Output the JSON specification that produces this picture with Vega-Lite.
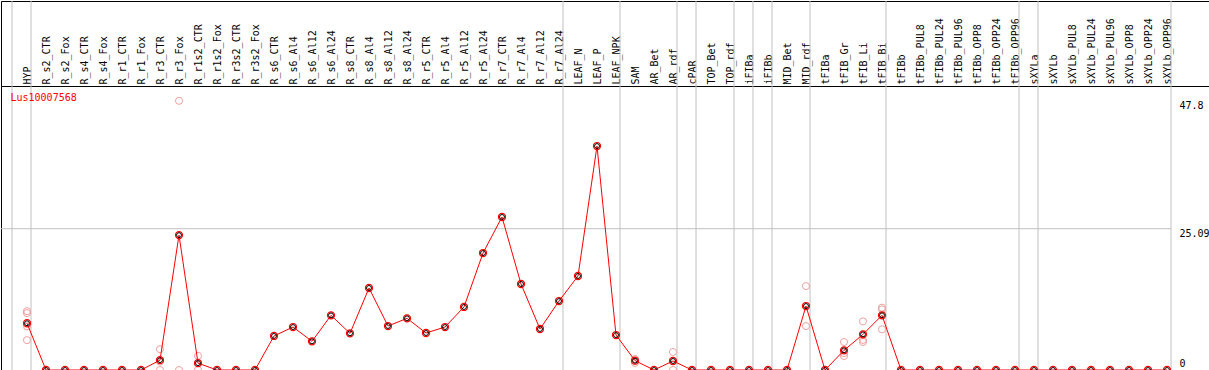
{
  "$schema": "https://vega.github.io/schema/vega-lite/v6.json",
  "autosize": {"type": "pad"},
  "padding": 0,
  "background": "white",
  "spacing": 0,
  "bounds": "flush",
  "config": {
    "view": {"stroke": "black", "strokeWidth": 1},
    "font": "DejaVu Sans Mono"
  },
  "resolve": {"scale": {"x": "independent", "y": "independent"}},
  "datasets": {
    "groups": [
      {"cond": "HYP"}, {"cond": "R_s2_CTR"}, {"cond": "LEAF_N"}, {"cond": "SAM"}, {"cond": "cPAR"},
      {"cond": "TOP_Bet"}, {"cond": "iFIBa"}, {"cond": "iFIBb"}, {"cond": "MID_Bet"}, {"cond": "tFIBa"},
      {"cond": "tFIBb"}, {"cond": "sXYLa"}, {"cond": "sXYLb"}
    ],
    "means": [
      {"cond": "HYP", "value": 8.3},
      {"cond": "R_s2_CTR", "value": 0},
      {"cond": "R_s2_Fox", "value": 0},
      {"cond": "R_s4_CTR", "value": 0},
      {"cond": "R_s4_Fox", "value": 0},
      {"cond": "R_r1_CTR", "value": 0},
      {"cond": "R_r1_Fox", "value": 0},
      {"cond": "R_r3_CTR", "value": 1.75},
      {"cond": "R_r3_Fox", "value": 23.95},
      {"cond": "R_r1s2_CTR", "value": 1.22},
      {"cond": "R_r1s2_Fox", "value": 0},
      {"cond": "R_r3s2_CTR", "value": 0},
      {"cond": "R_r3s2_Fox", "value": 0},
      {"cond": "R_s6_CTR", "value": 6.04},
      {"cond": "R_s6_Al4", "value": 7.63},
      {"cond": "R_s6_Al12", "value": 5.09},
      {"cond": "R_s6_Al24", "value": 9.7},
      {"cond": "R_s8_CTR", "value": 6.51},
      {"cond": "R_s8_Al4", "value": 14.56},
      {"cond": "R_s8_Al12", "value": 7.81},
      {"cond": "R_s8_Al24", "value": 9.17},
      {"cond": "R_r5_CTR", "value": 6.57},
      {"cond": "R_r5_Al4", "value": 7.63},
      {"cond": "R_r5_Al12", "value": 11.19},
      {"cond": "R_r5_Al24", "value": 20.77},
      {"cond": "R_r7_CTR", "value": 27.17},
      {"cond": "R_r7_Al4", "value": 15.27},
      {"cond": "R_r7_Al12", "value": 7.28},
      {"cond": "R_r7_Al24", "value": 12.25},
      {"cond": "LEAF_N", "value": 16.69},
      {"cond": "LEAF_P", "value": 39.77},
      {"cond": "LEAF_NPK", "value": 6.21},
      {"cond": "SAM", "value": 1.66},
      {"cond": "AR_Bet", "value": 0},
      {"cond": "AR_rdf", "value": 1.6},
      {"cond": "cPAR", "value": 0},
      {"cond": "TOP_Bet", "value": 0},
      {"cond": "TOP_rdf", "value": 0},
      {"cond": "iFIBa", "value": 0},
      {"cond": "iFIBb", "value": 0},
      {"cond": "MID_Bet", "value": 0},
      {"cond": "MID_rdf", "value": 11.36},
      {"cond": "tFIBa", "value": 0},
      {"cond": "tFIB_Gr", "value": 3.49},
      {"cond": "tFIB_Li", "value": 6.33},
      {"cond": "tFIB_Bi", "value": 9.71},
      {"cond": "tFIBb", "value": 0},
      {"cond": "tFIBb_PUL8", "value": 0},
      {"cond": "tFIBb_PUL24", "value": 0},
      {"cond": "tFIBb_PUL96", "value": 0},
      {"cond": "tFIBb_OPP8", "value": 0},
      {"cond": "tFIBb_OPP24", "value": 0},
      {"cond": "tFIBb_OPP96", "value": 0},
      {"cond": "sXYLa", "value": 0},
      {"cond": "sXYLb", "value": 0},
      {"cond": "sXYLb_PUL8", "value": 0},
      {"cond": "sXYLb_PUL24", "value": 0},
      {"cond": "sXYLb_PUL96", "value": 0},
      {"cond": "sXYLb_OPP8", "value": 0},
      {"cond": "sXYLb_OPP24", "value": 0},
      {"cond": "sXYLb_OPP96", "value": 0}
    ],
    "reps": [
      {"cond": "HYP", "value": 10.45},
      {"cond": "HYP", "value": 10.1},
      {"cond": "HYP", "value": 7.75},
      {"cond": "HYP", "value": 5.3},
      {"cond": "R_r3_CTR", "value": 3.7},
      {"cond": "R_r3_CTR", "value": 1.5},
      {"cond": "R_r3_CTR", "value": 0},
      {"cond": "R_r3_Fox", "value": 47.8},
      {"cond": "R_r3_Fox", "value": 0},
      {"cond": "R_r1s2_CTR", "value": 2.5},
      {"cond": "R_r1s2_CTR", "value": 1.2},
      {"cond": "R_r1s2_CTR", "value": 0},
      {"cond": "SAM", "value": 1.95},
      {"cond": "SAM", "value": 1.6},
      {"cond": "SAM", "value": 1.25},
      {"cond": "AR_rdf", "value": 3.2},
      {"cond": "AR_rdf", "value": 1.6},
      {"cond": "AR_rdf", "value": 0},
      {"cond": "MID_rdf", "value": 14.9},
      {"cond": "MID_rdf", "value": 7.8},
      {"cond": "tFIB_Gr", "value": 4.97},
      {"cond": "tFIB_Gr", "value": 3.0},
      {"cond": "tFIB_Gr", "value": 2.49},
      {"cond": "tFIB_Li", "value": 8.64},
      {"cond": "tFIB_Li", "value": 5.33},
      {"cond": "tFIB_Li", "value": 4.97},
      {"cond": "tFIB_Bi", "value": 11.07},
      {"cond": "tFIB_Bi", "value": 10.77},
      {"cond": "tFIB_Bi", "value": 7.22}
    ]
  },
  "vconcat": [
    {
      "width": 1208,
      "height": 85,
      "layer": [
        {
          "data": {"name": "groups"},
          "mark": {"type": "rule", "color": "#c0c0c0", "strokeWidth": 1, "xOffset": -15},
          "encoding": {
            "x": {
              "field": "cond", "type": "nominal",
              "scale": {"type": "point", "domain": ["HYP","R_s2_CTR","R_s2_Fox","R_s4_CTR","R_s4_Fox","R_r1_CTR","R_r1_Fox","R_r3_CTR","R_r3_Fox","R_r1s2_CTR","R_r1s2_Fox","R_r3s2_CTR","R_r3s2_Fox","R_s6_CTR","R_s6_Al4","R_s6_Al12","R_s6_Al24","R_s8_CTR","R_s8_Al4","R_s8_Al12","R_s8_Al24","R_r5_CTR","R_r5_Al4","R_r5_Al12","R_r5_Al24","R_r7_CTR","R_r7_Al4","R_r7_Al12","R_r7_Al24","LEAF_N","LEAF_P","LEAF_NPK","SAM","AR_Bet","AR_rdf","cPAR","TOP_Bet","TOP_rdf","iFIBa","iFIBb","MID_Bet","MID_rdf","tFIBa","tFIB_Gr","tFIB_Li","tFIB_Bi","tFIBb","tFIBb_PUL8","tFIBb_PUL24","tFIBb_PUL96","tFIBb_OPP8","tFIBb_OPP24","tFIBb_OPP96","sXYLa","sXYLb","sXYLb_PUL8","sXYLb_PUL24","sXYLb_PUL96","sXYLb_OPP8","sXYLb_OPP24","sXYLb_OPP96"], "range": [26, 1166], "padding": 0},
              "axis": {
                "orient": "top", "offset": -85, "title": null, "ticks": false, "domain": false, "grid": false,
                "labelAngle": 270, "labelAlign": "left", "labelBaseline": "middle", "labelPadding": 2,
                "labelFont": "DejaVu Sans Mono", "labelFontSize": 10, "labelColor": "black",
                "labelOverlap": false, "labelBound": false, "labelFlush": false
              }
            }
          }
        },
        {
          "data": {"values": [{}]},
          "mark": {"type": "rule", "color": "#c0c0c0", "strokeWidth": 1, "xOffset": 4},
          "encoding": {"x": {"datum": "sXYLb_OPP96", "type": "nominal"}}
        }
      ]
    },
    {
      "width": 1208,
      "height": 284,
      "encoding": {
        "x": {
          "field": "cond", "type": "nominal",
          "scale": {"type": "point", "domain": ["HYP","R_s2_CTR","R_s2_Fox","R_s4_CTR","R_s4_Fox","R_r1_CTR","R_r1_Fox","R_r3_CTR","R_r3_Fox","R_r1s2_CTR","R_r1s2_Fox","R_r3s2_CTR","R_r3s2_Fox","R_s6_CTR","R_s6_Al4","R_s6_Al12","R_s6_Al24","R_s8_CTR","R_s8_Al4","R_s8_Al12","R_s8_Al24","R_r5_CTR","R_r5_Al4","R_r5_Al12","R_r5_Al24","R_r7_CTR","R_r7_Al4","R_r7_Al12","R_r7_Al24","LEAF_N","LEAF_P","LEAF_NPK","SAM","AR_Bet","AR_rdf","cPAR","TOP_Bet","TOP_rdf","iFIBa","iFIBb","MID_Bet","MID_rdf","tFIBa","tFIB_Gr","tFIB_Li","tFIB_Bi","tFIBb","tFIBb_PUL8","tFIBb_PUL24","tFIBb_PUL96","tFIBb_OPP8","tFIBb_OPP24","tFIBb_OPP96","sXYLa","sXYLb","sXYLb_PUL8","sXYLb_PUL24","sXYLb_PUL96","sXYLb_OPP8","sXYLb_OPP24","sXYLb_OPP96"], "range": [26, 1166], "padding": 0},
          "axis": null
        }
      },
      "layer": [
        {
          "data": {"name": "groups"},
          "mark": {"type": "rule", "color": "#c0c0c0", "strokeWidth": 1, "xOffset": -15},
          "encoding": {}
        },
        {
          "data": {"values": [{}]},
          "mark": {"type": "rule", "color": "#c0c0c0", "strokeWidth": 1, "xOffset": 4},
          "encoding": {"x": {"datum": "sXYLb_OPP96", "type": "nominal"}}
        },
        {
          "data": {"values": [{}]},
          "mark": {"type": "rule", "color": "#c0c0c0", "strokeWidth": 1, "xOffset": -26, "x2Offset": 4},
          "encoding": {
            "x": {"datum": "HYP", "type": "nominal"},
            "x2": {"datum": "sXYLb_OPP96"},
            "y": {
              "datum": 25.09, "type": "quantitative",
              "scale": {"domain": [0, 50.43], "nice": false, "zero": false},
              "axis": {
                "orient": "right", "offset": -38, "values": [0, 25.09, 47.8], "title": null,
                "grid": false, "domain": false, "ticks": false,
                "labelExpr": "'' + datum.value",
                "labelAlign": "left", "labelBaseline": "top", "labelPadding": 8,
                "labelOffset": {"condition": {"test": "datum.value === 0", "value": -12}, "value": 0},
                "labelFont": "DejaVu Sans Mono", "labelFontSize": 10, "labelColor": "black",
                "labelFlush": false, "labelBound": false, "labelOverlap": false
              }
            }
          }
        },
        {
          "data": {"name": "reps"},
          "mark": {"type": "point", "shape": "circle", "filled": false, "size": 50, "stroke": "#f0a0a0", "strokeWidth": 1, "opacity": 1},
          "encoding": {
            "y": {
              "field": "value", "type": "quantitative",
              "scale": {"domain": [0, 50.43], "nice": false, "zero": false},
              "axis": {
                "orient": "right", "offset": -38, "values": [0, 25.09, 47.8], "title": null,
                "grid": false, "domain": false, "ticks": false,
                "labelExpr": "'' + datum.value",
                "labelAlign": "left", "labelBaseline": "top", "labelPadding": 8,
                "labelOffset": {"condition": {"test": "datum.value === 0", "value": -12}, "value": 0},
                "labelFont": "DejaVu Sans Mono", "labelFontSize": 10, "labelColor": "black",
                "labelFlush": false, "labelBound": false, "labelOverlap": false
              }
            }
          }
        },
        {
          "data": {"name": "means"},
          "mark": {"type": "line", "color": "#ff0000", "strokeWidth": 1},
          "encoding": {
            "order": {"value": null},
            "y": {
              "field": "value", "type": "quantitative",
              "scale": {"domain": [0, 50.43], "nice": false, "zero": false},
              "axis": {
                "orient": "right", "offset": -38, "values": [0, 25.09, 47.8], "title": null,
                "grid": false, "domain": false, "ticks": false,
                "labelExpr": "'' + datum.value",
                "labelAlign": "left", "labelBaseline": "top", "labelPadding": 8,
                "labelOffset": {"condition": {"test": "datum.value === 0", "value": -12}, "value": 0},
                "labelFont": "DejaVu Sans Mono", "labelFontSize": 10, "labelColor": "black",
                "labelFlush": false, "labelBound": false, "labelOverlap": false
              }
            }
          }
        },
        {
          "data": {"name": "means"},
          "mark": {"type": "point", "shape": "circle", "filled": false, "size": 50, "stroke": "#ff0000", "strokeWidth": 1.2, "opacity": 1},
          "encoding": {
            "y": {
              "field": "value", "type": "quantitative",
              "scale": {"domain": [0, 50.43], "nice": false, "zero": false},
              "axis": {
                "orient": "right", "offset": -38, "values": [0, 25.09, 47.8], "title": null,
                "grid": false, "domain": false, "ticks": false,
                "labelExpr": "'' + datum.value",
                "labelAlign": "left", "labelBaseline": "top", "labelPadding": 8,
                "labelOffset": {"condition": {"test": "datum.value === 0", "value": -12}, "value": 0},
                "labelFont": "DejaVu Sans Mono", "labelFontSize": 10, "labelColor": "black",
                "labelFlush": false, "labelBound": false, "labelOverlap": false
              }
            }
          }
        },
        {
          "data": {"name": "means"},
          "mark": {"type": "point", "shape": "circle", "filled": false, "size": 24, "stroke": "#000000", "strokeWidth": 1, "opacity": 1},
          "encoding": {
            "y": {
              "field": "value", "type": "quantitative",
              "scale": {"domain": [0, 50.43], "nice": false, "zero": false},
              "axis": {
                "orient": "right", "offset": -38, "values": [0, 25.09, 47.8], "title": null,
                "grid": false, "domain": false, "ticks": false,
                "labelExpr": "'' + datum.value",
                "labelAlign": "left", "labelBaseline": "top", "labelPadding": 8,
                "labelOffset": {"condition": {"test": "datum.value === 0", "value": -12}, "value": 0},
                "labelFont": "DejaVu Sans Mono", "labelFontSize": 10, "labelColor": "black",
                "labelFlush": false, "labelBound": false, "labelOverlap": false
              }
            }
          }
        },
        {
          "data": {"values": [{}]},
          "mark": {"type": "text", "color": "#ff0000", "font": "DejaVu Sans Mono", "fontSize": 10, "align": "left", "baseline": "middle", "xOffset": -16.5, "yOffset": -3},
          "encoding": {
            "x": {"datum": "HYP", "type": "nominal"},
            "y": {
              "datum": 47.8, "type": "quantitative",
              "scale": {"domain": [0, 50.43], "nice": false, "zero": false},
              "axis": {
                "orient": "right", "offset": -38, "values": [0, 25.09, 47.8], "title": null,
                "grid": false, "domain": false, "ticks": false,
                "labelExpr": "'' + datum.value",
                "labelAlign": "left", "labelBaseline": "top", "labelPadding": 8,
                "labelOffset": {"condition": {"test": "datum.value === 0", "value": -12}, "value": 0},
                "labelFont": "DejaVu Sans Mono", "labelFontSize": 10, "labelColor": "black",
                "labelFlush": false, "labelBound": false, "labelOverlap": false
              }
            },
            "text": {"value": "Lus10007568"}
          }
        }
      ]
    }
  ]
}
